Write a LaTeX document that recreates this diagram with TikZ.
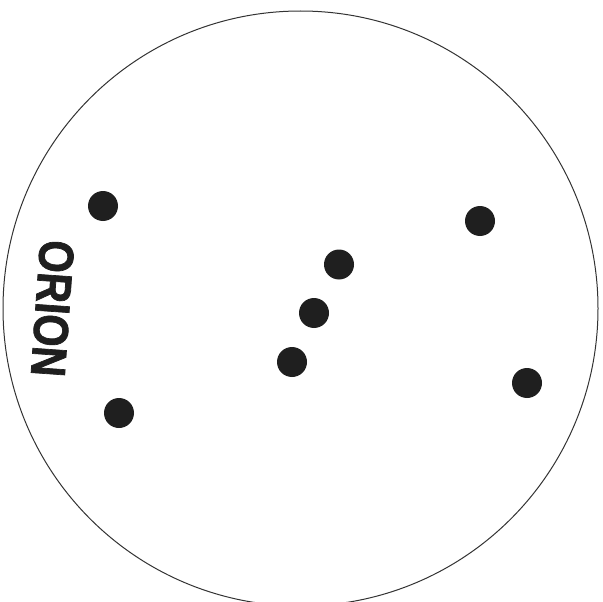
\documentclass[tikz,border=0pt]{standalone}
\usepackage{fontspec}
\setmainfont{Liberation Sans}
\newfontfamily\heavyfont[FakeBold=1.6]{Liberation Sans Bold}
\begin{document}
\begin{tikzpicture}[x=1pt,y=-1pt,
  star/.style={circle,fill=black!88,inner sep=0pt,minimum size=30pt},
  lbl/.style={font=\heavyfont\fontsize{49}{49}\selectfont,text=black!88,inner sep=0pt}]
\useasboundingbox (0,0) rectangle (603,602);
\begin{scope}
\clip (0,0) rectangle (603,602);
\draw[line width=1pt,black!80] (300.5,308.5) circle[radius=297.5];
\end{scope}
\node[star] (s1) at (103,206) {};
\node[star] (s2) at (480,221) {};
\node[star] (s3) at (339,264.5) {};
\node[star] (s4) at (314,313) {};
\node[star] (s5) at (292,362) {};
\node[star] (s6) at (527,383) {};
\node[star] (s7) at (119,413) {};
\node[lbl,rotate=-94,xscale=0.85] (orion) at (52.5,308.5) {ORION};
\end{tikzpicture}
\end{document}
